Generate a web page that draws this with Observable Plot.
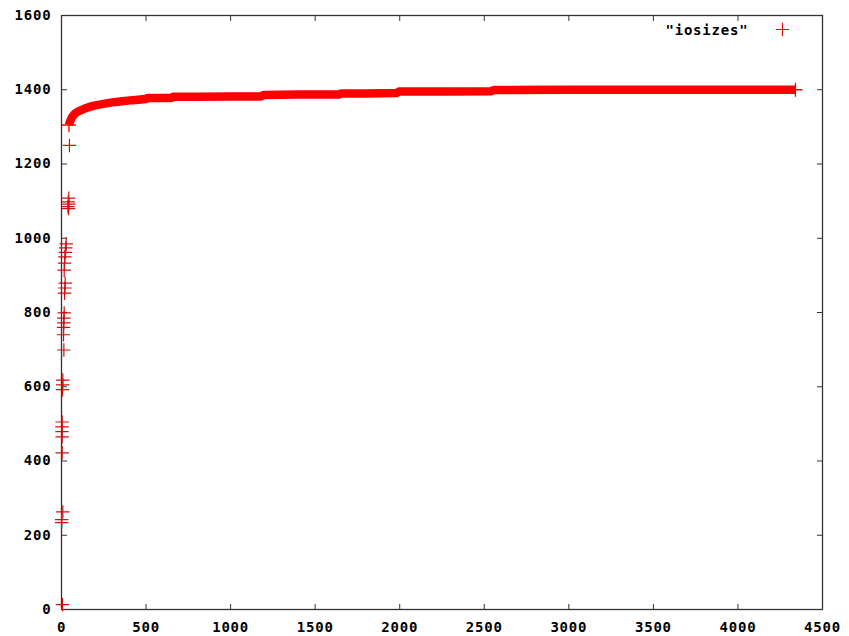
<!DOCTYPE html>
<html>
<head>
<meta charset="utf-8">
<script src="https://cdn.jsdelivr.net/npm/d3@7"></script>
<script src="https://cdn.jsdelivr.net/npm/@observablehq/plot@0.6"></script>
<style>
  html, body { margin: 0; padding: 0; background: #fff; }
  #chart svg { display: block; }
</style>
</head>
<body>
<div id="chart"></div>
<script>
// ---- data ----
const seriesName = '"iosizes"';
const xTicks = [0, 500, 1000, 1500, 2000, 2500, 3000, 3500, 4000, 4500];
const yTicks = [0, 200, 400, 600, 800, 1000, 1200, 1400, 1600];

// sparse points near x = 0
const sparseX = [47, 43, 40, 44, 38, 42, 28, 25, 23, 20, 18, 16, 22, 20, 18, 16, 14, 14, 12, 12, 14, 8, 7, 6, 4, 3, 3, 4, 4, 8, 1, 1, 6];
const sparseY = [1250, 1108, 1098, 1092, 1085, 1080, 985, 974, 962, 950, 933, 914, 879, 866, 852, 799, 785, 772, 760, 740, 699, 618, 605, 592, 505, 492, 479, 465, 422, 263, 242, 234, 13];

// dense band of points (the plateau)
const bandX = [44, 50, 57, 65, 80, 100, 130, 160, 200, 250, 300, 360, 420, 500, 510, 650, 660, 800, 1000, 1180, 1195, 1400, 1640, 1655, 1800, 1980, 1995, 2300, 2540, 2555, 3000, 3500, 4000, 4340];
const bandY = [1305, 1314, 1321, 1328, 1336, 1342, 1348, 1353, 1358, 1362, 1366, 1369, 1372, 1375, 1378, 1378, 1381, 1381, 1382, 1382, 1386, 1387, 1387, 1390, 1390, 1391, 1395, 1395, 1396, 1399, 1400, 1400, 1400, 1400];

const sparse = sparseX.map((x, i) => ({x, y: sparseY[i]}));
const band = bandX.map((x, i) => ({x, y: bandY[i]}));
const bandEnds = [band[0], band[band.length - 1]];

const axisColor = "#333333";
const red = "#ff0000";
const markRed = "#d41010";
const font = {fontFamily: "DejaVu Sans Mono", fontWeight: "bold", fontSize: 14};
const fmt = d => String(d);
const blank = () => "";

const chart = Plot.plot({
  width: 849,
  height: 636,
  marginLeft: 61,
  marginRight: 27,
  marginTop: 15,
  marginBottom: 27,
  style: {background: "#fff", color: "#000", fontFamily: "DejaVu Sans Mono", fontWeight: "bold", fontSize: "14px", letterSpacing: "0.8px"},
  x: {domain: [0, 4500]},
  y: {domain: [0, 1600]},
  marks: [
    Plot.frame({stroke: axisColor, strokeWidth: 1.3}),
    // inward tick marks, mirrored on all four sides
    Plot.axisY(yTicks, {anchor: "left", tickSize: 6, dx: 6, tickFormat: blank, label: null, stroke: axisColor}),
    Plot.axisY(yTicks, {anchor: "right", tickSize: 6, dx: -6, tickFormat: blank, label: null, stroke: axisColor}),
    Plot.axisX(xTicks, {anchor: "bottom", tickSize: 5, dy: -5, tickFormat: blank, label: null, stroke: axisColor}),
    Plot.axisX(xTicks, {anchor: "top", tickSize: 5, dy: 5, tickFormat: blank, label: null, stroke: axisColor}),
    // tick labels
    Plot.axisY(yTicks, {anchor: "left", tickSize: 0, tickPadding: 10, tickFormat: fmt, label: null, fill: "#000", ...font}),
    Plot.axisX(xTicks, {anchor: "bottom", tickSize: 0, tickPadding: 13, tickFormat: fmt, label: null, fill: "#000", ...font}),
    // dense band of markers
    Plot.line(band, {x: "x", y: "y", stroke: red, strokeWidth: 8.5, strokeLinejoin: "round", strokeLinecap: "butt", curve: "linear"}),
    Plot.dot(bandEnds, {x: "x", y: "y", symbol: "plus", r: 4.6, stroke: red, fill: "none", strokeWidth: 1.3}),
    // sparse markers
    Plot.dot(sparse, {x: "x", y: "y", symbol: "plus", r: 4.4, stroke: markRed, fill: "none", strokeWidth: 1.2}),
    // key
    Plot.text([seriesName], {frameAnchor: "top-right", dx: -74, dy: 15, textAnchor: "end", lineAnchor: "middle", fill: "#000", ...font}),
    Plot.dot([seriesName], {frameAnchor: "top-right", dx: -40, dy: 14, symbol: "plus", r: 4.4, stroke: markRed, fill: "none", strokeWidth: 1.2})
  ]
});
document.getElementById("chart").appendChild(chart);
</script>
</body>
</html>
